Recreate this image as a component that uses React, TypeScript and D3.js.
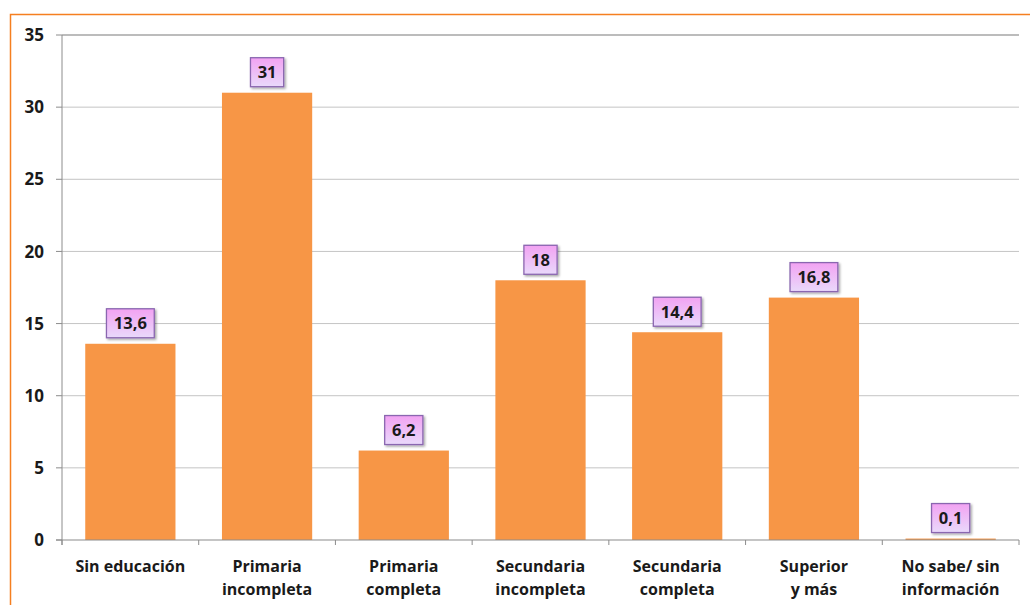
import React from 'react';
import * as d3 from 'd3';

const categories: string[][] = [
  ['Sin educación'],
  ['Primaria', 'incompleta'],
  ['Primaria', 'completa'],
  ['Secundaria', 'incompleta'],
  ['Secundaria', 'completa'],
  ['Superior', 'y más'],
  ['No sabe/ sin', 'información'],
];
const values = [13.6, 31, 6.2, 18, 14.4, 16.8, 0.1];
const valueLabels = ['13,6', '31', '6,2', '18', '14,4', '16,8', '0,1'];
const yTicks = [0, 5, 10, 15, 20, 25, 30, 35];

const W = 1030;
const H = 605;
const margin = { left: 62, right: 11, top: 35, bottom: 65 };
const FONT = '"Open Sans", Lato, sans-serif';

// rough width of a bold label in px
const labelWidth = (s: string) =>
  s.split('').reduce((acc, c) => acc + (c === ',' ? 5 : 9.6), 0) + 14;

export default function App() {
  const x = d3
    .scaleBand<number>()
    .domain(d3.range(values.length))
    .range([margin.left, W - margin.right])
    .paddingInner(0.34)
    .paddingOuter(0.17);
  const y = d3.scaleLinear().domain([0, 35]).range([H - margin.bottom, margin.top]);
  const step = x.step();
  const x0 = margin.left;
  const x1 = W - margin.right;

  return (
    <svg
      width={W}
      height={H}
      style={{ position: 'absolute', left: 0, top: 0, background: '#fff' }}
      fontFamily={FONT}
    >
      <defs>
        <linearGradient id="lbl" x1="0" y1="0" x2="0" y2="1">
          <stop offset="0%" stopColor="#f2a2f2" />
          <stop offset="100%" stopColor="#e9d9fb" />
        </linearGradient>
        <filter id="sh" x="-20%" y="-20%" width="150%" height="150%">
          <feDropShadow dx="1.5" dy="1.5" stdDeviation="1" floodColor="#000" floodOpacity="0.35" />
        </filter>
      </defs>

      {/* outer border */}
      <path d={`M10.5,${H} V14.5 H${W}`} fill="none" stroke="#f57f20" strokeWidth={1.5} />

      {/* grid */}
      {yTicks.map((t) => (
        <g key={t}>
          {t > 0 && (
            <line x1={x0} x2={x1} y1={y(t)} y2={y(t)} stroke={t === 35 ? '#a6a6a6' : '#c4c4c4'} strokeWidth={t === 35 ? 1.5 : 1} />
          )}
          <line x1={x0 - 6} x2={x0} y1={y(t)} y2={y(t)} stroke="#8c8c8c" />
          <text
            x={x0 - 18}
            y={y(t)}
            dy="0.36em"
            textAnchor="end"
            fontSize={17}
            fontWeight="bold"
            fill="#1a1a1a"
          >
            {t}
          </text>
        </g>
      ))}

      {/* bars */}
      {values.map((v, i) => (
        <rect
          key={i}
          x={x(i)}
          y={y(v)}
          width={x.bandwidth()}
          height={y(0) - y(v)}
          fill="#f79646"
        />
      ))}

      {/* axes */}
      <line x1={x0} x2={x0} y1={y(35)} y2={y(0) + 5} stroke="#8c8c8c" />
      <line x1={x0 - 6} x2={x1} y1={y(0)} y2={y(0)} stroke="#8c8c8c" strokeWidth={1.2} />
      {d3.range(values.length + 1).map((i) => (
        <line key={i} x1={x0 + i * step} x2={x0 + i * step} y1={y(0)} y2={y(0) + 5} stroke="#8c8c8c" />
      ))}

      {/* category labels */}
      {categories.map((lines, i) => (
        <text
          key={i}
          x={(x(i) as number) + x.bandwidth() / 2}
          y={y(0) + 32}
          textAnchor="middle"
          fontSize={16}
          fontWeight="bold"
          fill="#1a1a1a"
        >
          {lines.map((l, j) => (
            <tspan key={j} x={(x(i) as number) + x.bandwidth() / 2} dy={j === 0 ? 0 : 23}>
              {l}
            </tspan>
          ))}
        </text>
      ))}

      {/* value labels */}
      {values.map((v, i) => {
        const label = valueLabels[i];
        const w = labelWidth(label);
        const cx = (x(i) as number) + x.bandwidth() / 2;
        const bottom = y(v) - 6;
        return (
          <g key={i}>
            <rect
              x={cx - w / 2}
              y={bottom - 29}
              width={w}
              height={29}
              fill="url(#lbl)"
              stroke="#8a66b0"
              strokeWidth={1.3}
              filter="url(#sh)"
            />
            <text x={cx} y={bottom - 14.5} dy="0.36em" textAnchor="middle" fontSize={16.5} fontWeight="bold" fill="#1a1a1a">
              {label}
            </text>
          </g>
        );
      })}
    </svg>
  );
}
